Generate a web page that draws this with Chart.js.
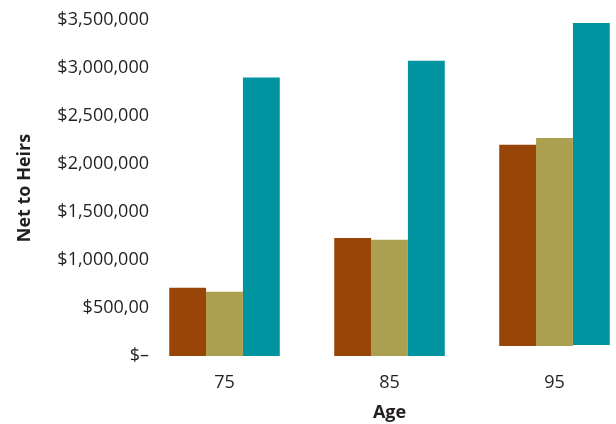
<!DOCTYPE html>
<html>
<head>
<meta charset="utf-8">
<script src="https://cdn.jsdelivr.net/npm/chart.js@4"></script>
<style>
html,body{margin:0;padding:0;background:#fff;overflow:hidden;width:616px;height:424px;}
canvas{display:block;}
</style>
</head>
<body>
<canvas id="c" width="640" height="424"></canvas>
<script>
const categories = ["75", "85", "95"];
const seriesA = [[0, 710000], [0, 1230000], [105000, 2200000]];
const seriesB = [[0, 670000], [0, 1210000], [105000, 2270000]];
const seriesC = [[0, 2900000], [0, 3075000], [115000, 3470000]];
const tickValues = [0, 500000, 1000000, 1500000, 2000000, 2500000, 3000000, 3500000];
const tickLabels = ["$–", "$500,00", "$1,000,000", "$1,500,000", "$2,000,000", "$2,500,000", "$3,000,000", "$3,500,000"];

const FONT = "'Open Sans', sans-serif";
const TEXT = "#231f20";

new Chart(document.getElementById("c"), {
  type: "bar",
  data: {
    labels: categories,
    datasets: [
      { data: seriesA, backgroundColor: "#9a4508", borderWidth: 0 },
      { data: seriesB, backgroundColor: "#aba050", borderWidth: 0 },
      { data: seriesC, backgroundColor: "#0093a0", borderWidth: 0 }
    ]
  },
  options: {
    responsive: false,
    animation: false,
    devicePixelRatio: 1,
    layout: { padding: { top: 20, right: 3, left: 0, bottom: 0 } },
    datasets: { bar: { categoryPercentage: 0.67, barPercentage: 1.0 } },
    plugins: { legend: { display: false }, tooltip: { enabled: false } },
    scales: {
      x: {
        grid: { display: false, drawTicks: false },
        border: { display: false },
        ticks: { color: TEXT, font: { family: FONT, size: 18 }, padding: 16 },
        title: { display: true, text: "Age", color: TEXT, font: { family: FONT, size: 18, weight: "bold" }, padding: { top: 4, bottom: 0 } },
        afterFit: s => { s.height = 68; }
      },
      y: {
        min: 0, max: 3500000,
        grid: { display: false, drawTicks: false },
        border: { display: false },
        afterBuildTicks: s => { s.ticks = tickValues.map(v => ({ value: v })); },
        ticks: {
          color: TEXT, font: { family: FONT, size: 18 }, padding: -7,
          callback: (v, i) => tickLabels[tickValues.indexOf(v)]
        },
        title: { display: true, text: "Net to Heirs", color: TEXT, font: { family: FONT, size: 18, weight: "bold" }, padding: { top: 14, bottom: 0 } },
        afterFit: s => { s.width = 142; s._computeLabelArea = () => undefined; }
      }
    }
  }
});
</script>
</body>
</html>
